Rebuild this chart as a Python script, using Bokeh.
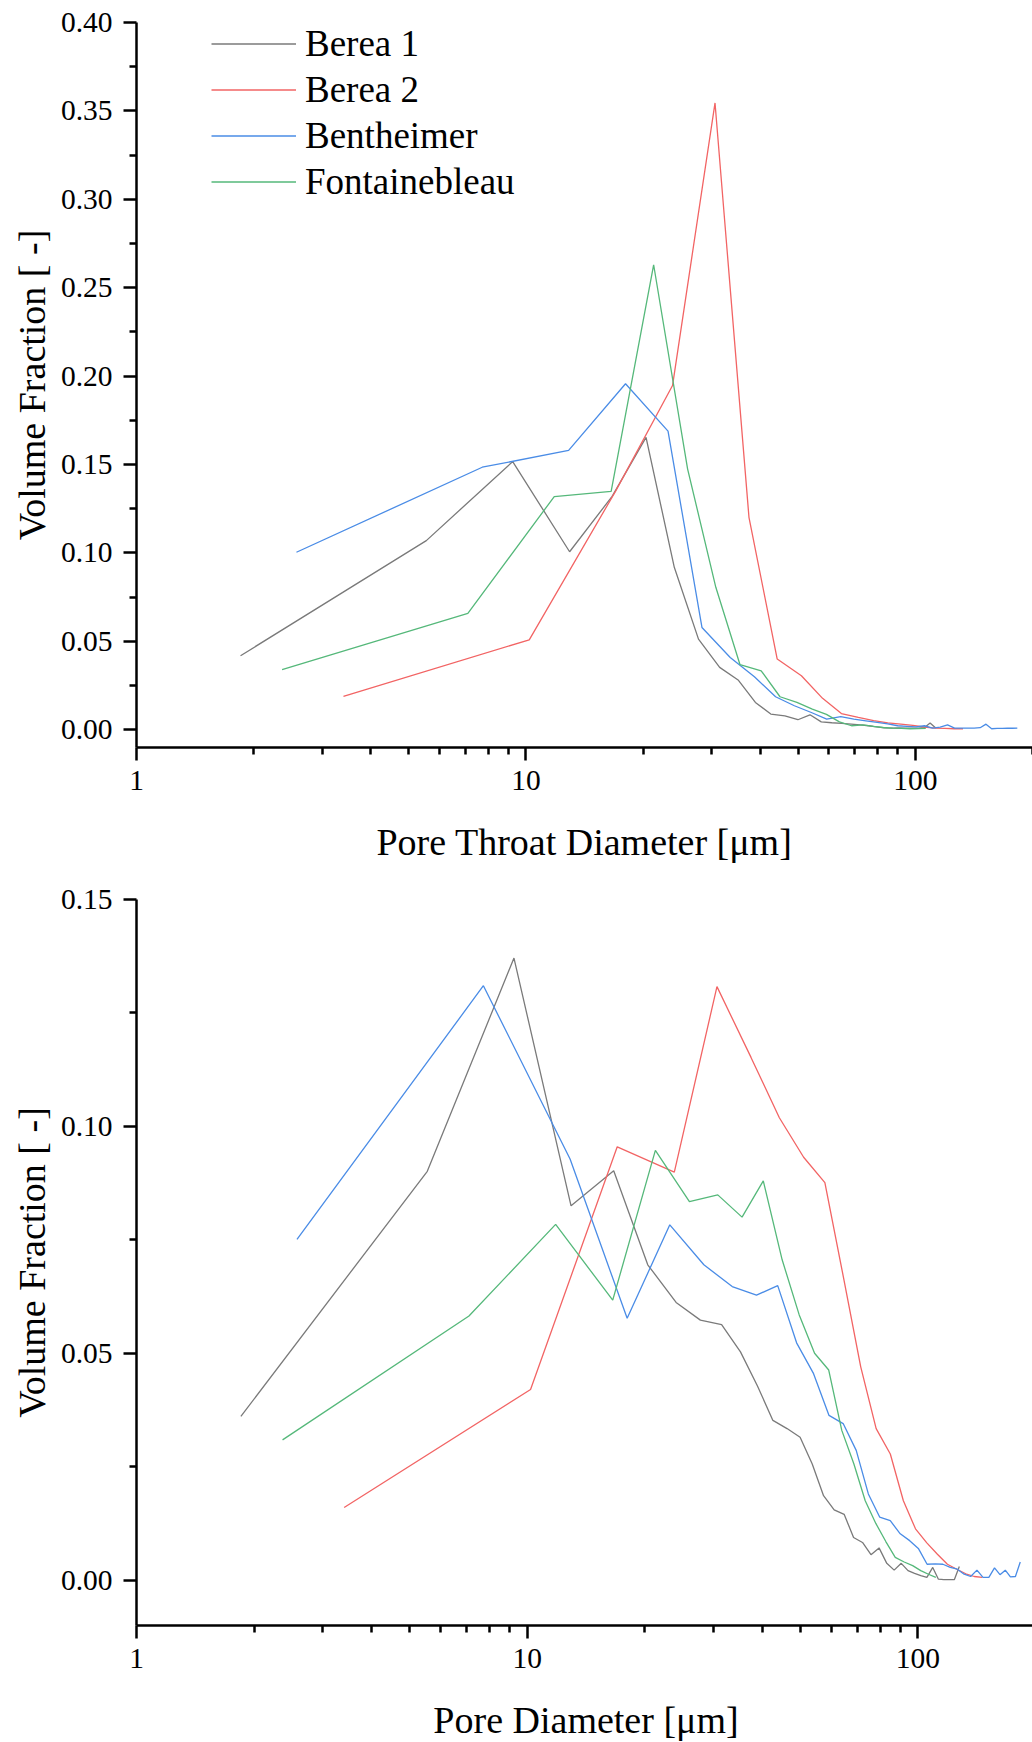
from bokeh.plotting import figure
from bokeh.models import (FixedTicker, Legend, LegendItem, Range1d,
                          NumeralTickFormatter)
from bokeh.layouts import column
from bokeh.embed import file_html
from bokeh.resources import INLINE

# ---------------- data ----------------
berea1_x = [1.85, 5.55, 9.25, 12.95, 16.65, 20.35, 24.05, 27.75, 31.45, 35.15,
            38.85, 42.55, 46.25, 49.95, 53.65, 57.35, 61.05, 64.75, 68.45, 72.15,
            75.85, 79.55, 83.25, 86.95, 90.65, 94.35, 98.05, 101.75, 105.45, 109.15,
            112.85, 116.55, 120.25, 123.95, 127.65]
berea2_x = [3.4, 10.2, 17.0, 23.8, 30.6, 37.4, 44.2, 51.0, 57.8, 64.6, 71.4,
            78.2, 85.0, 91.8, 98.6, 105.4, 112.2, 119.0, 125.8, 132.6, 139.4, 146.2]
benth_x = [2.575, 7.725, 12.875, 18.025, 23.175, 28.325, 33.475, 38.625, 43.775,
           48.925, 54.075, 59.225, 64.375, 69.525, 74.675, 79.825, 84.975, 90.125,
           95.275, 100.425, 105.575, 110.725, 115.875, 121.025, 126.175, 131.325,
           136.475, 141.625, 146.775, 151.925, 157.075, 162.225, 167.375, 172.525,
           177.675, 182.825]
fonta_x = [2.365, 7.095, 11.825, 16.555, 21.285, 26.015, 30.745, 35.475, 40.205,
           44.935, 49.665, 54.395, 59.125, 63.855, 68.585, 73.315, 78.045, 82.775,
           87.505, 92.235, 96.965, 101.695, 106.425, 111.155]

# Pore throat diameter distribution (top)
throat_berea1 = [0.0419, 0.1070, 0.1517, 0.1007, 0.1320, 0.1654, 0.0919, 0.0513, 0.0353, 0.0280,
                 0.0155, 0.0089, 0.0079, 0.0057, 0.0085, 0.0045, 0.0040, 0.0036, 0.0032, 0.0028,
                 0.0023, 0.0017, 0.0011, 0.0010, 0.0011, 0.0010, 0.0010, 0.0010, 0.0012, 0.0038,
                 0.0010]
throat_berea2 = [0.0189, 0.0509, 0.1350, 0.1947, 0.3545, 0.1202, 0.0400, 0.0306, 0.0178, 0.0092,
                 0.0070, 0.0052, 0.0039, 0.0032, 0.0025, 0.0016, 0.0010, 0.0008, 0.0006, 0.0006]
throat_benth = [0.1004, 0.1485, 0.1580, 0.1957, 0.1689, 0.0579, 0.0409, 0.0300, 0.0187, 0.0136,
                0.0098, 0.0060, 0.0074, 0.0060, 0.0051, 0.0042, 0.0033, 0.0023, 0.0020, 0.0017,
                0.0023, 0.0010, 0.0015, 0.0028, 0.0010, 0.0010, 0.0010, 0.0010, 0.0012, 0.0032,
                0.0006, 0.0008, 0.0008, 0.0009, 0.0009, 0.0010]
throat_fonta = [0.0340, 0.0658, 0.1319, 0.1349, 0.2630, 0.1476, 0.0806, 0.0368, 0.0334, 0.0187,
                0.0155, 0.0117, 0.0087, 0.0045, 0.0023, 0.0028, 0.0020, 0.0013, 0.0010, 0.0008,
                0.0006, 0.0007, 0.0008]

# Pore diameter distribution (bottom)
pore_berea1 = [0.0361, 0.0901, 0.1371, 0.0825, 0.0902, 0.0695, 0.0612, 0.0573, 0.0563, 0.0503,
               0.0428, 0.0352, 0.0334, 0.0315, 0.0256, 0.0186, 0.0155, 0.0145, 0.0094, 0.0083,
               0.0056, 0.0071, 0.0037, 0.0022, 0.0037, 0.0021, 0.0015, 0.0010, 0.0006, 0.0028,
               0.0002, 0.0001, 0.0001, 0.0001, 0.0030]
pore_berea2 = [0.0160, 0.0420, 0.0955, 0.0899, 0.1308, 0.1152, 0.1019, 0.0932, 0.0876, 0.0664,
               0.0470, 0.0334, 0.0278, 0.0175, 0.0113, 0.0082, 0.0057, 0.0035, 0.0024, 0.0014,
               0.0008, 0.0006]
pore_benth = [0.0751, 0.1310, 0.0928, 0.0577, 0.0783, 0.0695, 0.0647, 0.0628, 0.0649, 0.0523,
              0.0455, 0.0363, 0.0345, 0.0286, 0.0190, 0.0139, 0.0131, 0.0102, 0.0087, 0.0069,
              0.0035, 0.0036, 0.0035, 0.0028, 0.0024, 0.0013, 0.0008, 0.0022, 0.0006, 0.0006,
              0.0027, 0.0012, 0.0022, 0.0007, 0.0008, 0.0040]
pore_fonta = [0.0309, 0.0582, 0.0784, 0.0617, 0.0947, 0.0834, 0.0849, 0.0800, 0.0880, 0.0706,
              0.0585, 0.0500, 0.0463, 0.0330, 0.0256, 0.0175, 0.0125, 0.0085, 0.0050, 0.0040,
              0.0032, 0.0021, 0.0013, 0.0006]

names = ["Berea 1", "Berea 2", "Bentheimer", "Fontainebleau"]
colors = ["#7a7a7a", "#f26464", "#4a8ce6", "#55b87a"]

x_major = [1, 10, 100]
x_minor = [2, 3, 4, 5, 6, 7, 8, 9, 20, 30, 40, 50, 60, 70, 80, 90, 200]

FONT = "Liberation Serif"


def style(p, xlabel, ylabel, y_major, y_minor):
    p.outline_line_color = None
    p.xgrid.visible = False
    p.ygrid.visible = False
    p.background_fill_color = "white"
    p.border_fill_color = "white"
    for ax in (p.xaxis[0], p.yaxis[0]):
        ax.axis_line_width = 2.5
        ax.axis_line_color = "black"
        ax.major_tick_line_width = 2.5
        ax.minor_tick_line_width = 2.5
        ax.major_tick_line_color = "black"
        ax.minor_tick_line_color = "black"
        ax.major_tick_in = 0
        ax.minor_tick_in = 0
        ax.major_tick_out = 13
        ax.minor_tick_out = 7
        ax.major_label_text_font = FONT
        ax.major_label_text_font_size = "29.5px"
        ax.major_label_text_color = "black"
        ax.axis_label_text_font = FONT
        ax.axis_label_text_font_size = "38px"
        ax.axis_label_text_font_style = "normal"
        ax.axis_label_text_color = "black"
    xa = p.xaxis[0]
    xa.ticker = FixedTicker(ticks=x_major, minor_ticks=x_minor)
    xa.formatter = NumeralTickFormatter(format="0")
    xa.axis_label = xlabel
    xa.major_label_standoff = 10
    xa.axis_label_standoff = 28
    ya = p.yaxis[0]
    ya.ticker = FixedTicker(ticks=y_major, minor_ticks=y_minor)
    ya.formatter = NumeralTickFormatter(format="0.00")
    ya.axis_label = ylabel
    ya.major_label_standoff = 11
    ya.axis_label_standoff = 5


def draw(p, ys):
    xs = [berea1_x, berea2_x, benth_x, fonta_x]
    rs = []
    for x, y, c in zip(xs, ys, colors):
        rs.append(p.line(x[:len(y)], y, line_color=c, line_width=1.3))
    return rs


# ---------------- top figure ----------------
p1 = figure(frame_width=896, frame_height=725, x_axis_type="log",
            x_range=Range1d(1, 200), y_range=Range1d(-0.01, 0.40),
            min_border_left=136, min_border_right=0, min_border_top=22,
            min_border_bottom=123, toolbar_location=None, output_backend="svg")
style(p1, "Pore Throat Diameter [μm]", "Volume Fraction [ -]",
      [0.0, 0.05, 0.10, 0.15, 0.20, 0.25, 0.30, 0.35, 0.40],
      [0.025, 0.075, 0.125, 0.175, 0.225, 0.275, 0.325, 0.375])
r1 = draw(p1, [throat_berea1, throat_berea2, throat_benth, throat_fonta])

legend = Legend(items=[LegendItem(label=n, renderers=[r]) for n, r in zip(names, r1)],
                location=(75, 544))
legend.border_line_color = None
legend.background_fill_alpha = 0
legend.label_text_font = FONT
legend.label_text_font_size = "37px"
legend.label_text_color = "black"
legend.glyph_width = 85
legend.glyph_height = 41
legend.label_height = 41
legend.label_standoff = 9
legend.spacing = 3
legend.padding = 0
legend.margin = 0
p1.add_layout(legend)

# ---------------- bottom figure ----------------
p2 = figure(frame_width=899, frame_height=726, x_axis_type="log",
            x_range=Range1d(1, 200), y_range=Range1d(-0.01, 0.15),
            min_border_left=133, min_border_right=0, min_border_top=29,
            min_border_bottom=117, toolbar_location=None, output_backend="svg")
style(p2, "Pore Diameter [μm]", "Volume Fraction [ -]",
      [0.0, 0.05, 0.10, 0.15],
      [0.025, 0.075, 0.125])
draw(p2, [pore_berea1, pore_berea2, pore_benth, pore_fonta])

layout = column(p1, p2, spacing=0)
open("out.html", "w").write(file_html(layout, INLINE))
